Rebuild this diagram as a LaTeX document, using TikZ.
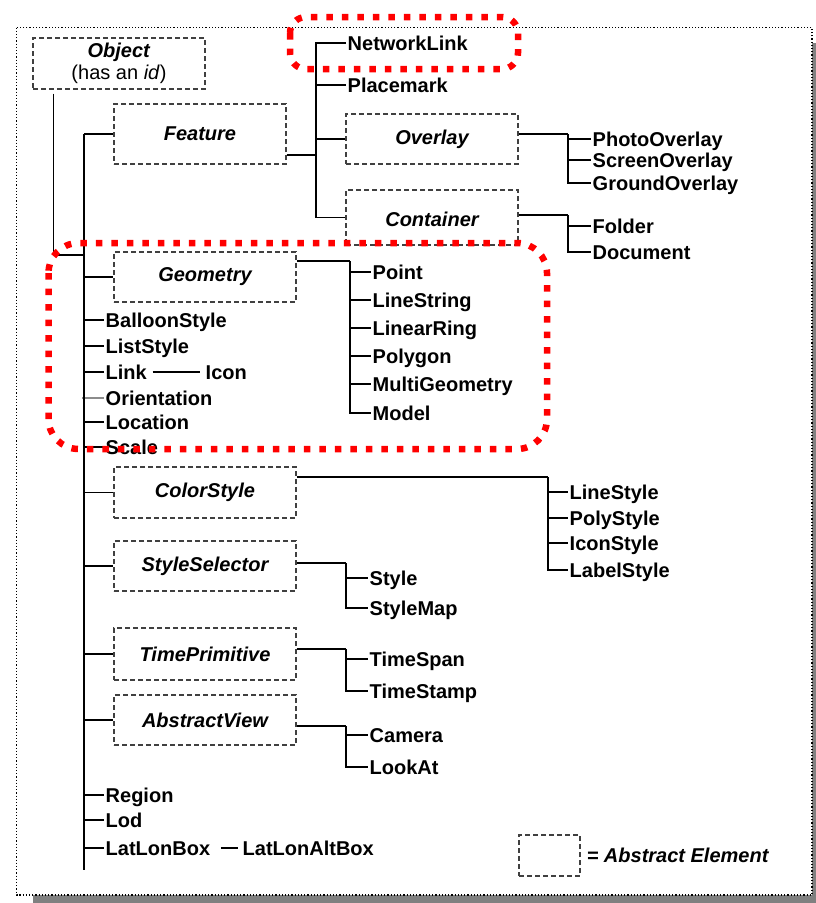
\documentclass[tikz,border=0pt]{standalone}
\usepackage{fontspec}
\setmainfont{Liberation Sans}
\usetikzlibrary{calc}
\newcommand\kmlsize{\fontsize{20}{22}\selectfont}
\tikzset{abox/.style={draw=black!75,dash pattern=on 5pt off 3pt,line width=1.1pt,inner sep=0pt,font=\kmlsize\bfseries\itshape}}
\tikzset{elem/.style={anchor=west,inner xsep=1.5pt,inner ysep=0pt,text height=14pt,text depth=0pt,font=\kmlsize\bfseries}}
\tikzset{elink/.style={draw,line width=1.7pt}}
\tikzset{hilite/.style={draw=red,line width=6.5pt,dash pattern=on 6.5pt off 9pt}}

\begin{document}
\begin{tikzpicture}[x=1pt,y=-1pt]
  \useasboundingbox (0,0) rectangle (816,903);
  \fill[black!50] (33,43) rectangle (816,903);
  \draw[fill=white,dotted,line width=1.2pt] (16.5,27.5) rectangle (812,895);

  \node[abox,minimum width=172pt,minimum height=51pt,align=center,font=\kmlsize] (Object) at (119,63.5) {\textbf{\textit{Object}}\\(has an \textit{id})};
  \node[abox,minimum width=172pt,minimum height=60pt] (Feature) at (200,134) {Feature};
  \node[abox,minimum width=172pt,minimum height=50pt] (Overlay) at (432,139) {Overlay};
  \node[abox,minimum width=172pt,minimum height=55pt,text height=10pt,text depth=0pt] (Container) at (432,217.5) {\raisebox{-4pt}{Container}};
  \foreach \c/\y/\h in {Geometry/277/50,ColorStyle/492.5/51,StyleSelector/566/50,TimePrimitive/654/52,AbstractView/720/50}
    \node[abox,minimum width=182pt,minimum height={\h pt}] (\c) at (205,\y) {\c};

  \foreach \c/\y in {BalloonStyle/320,ListStyle/346,Link/372,Orientation/398,Location/422,Scale/447,Region/795,Lod/820,LatLonBox/848}
    \node[elem] (\c) at (104,\y) {\c};
  \node[elem] (Icon) at (204,372) {Icon};
  \node[elem] (LatLonAltBox) at (241,848) {LatLonAltBox};
  \foreach \c/\y in {NetworkLink/43,Placemark/85}
    \node[elem] (\c) at (346,\y) {\c};
  \foreach \c/\y in {PhotoOverlay/139,ScreenOverlay/160,GroundOverlay/183,Folder/226,Document/252}
    \node[elem] (\c) at (591,\y) {\c};
  \foreach \c/\y in {Point/272,LineString/300,LinearRing/328,Polygon/356,MultiGeometry/384,Model/413}
    \node[elem] (\c) at (371,\y) {\c};
  \foreach \c/\y in {LineStyle/492,PolyStyle/518,IconStyle/543,LabelStyle/570}
    \node[elem] (\c) at (568,\y) {\c};
  \foreach \c/\y in {Style/578,StyleMap/608,TimeSpan/659,TimeStamp/691,Camera/735,LookAt/767}
    \node[elem] (\c) at (368,\y) {\c};

  \coordinate (trunk) at (84,134);
  \coordinate (trunkend) at (84,870);
  \coordinate (objj) at (84,255);
  \draw[elink,black!45,line width=2.5pt] (trunk |- Orientation.west) ++(-2,0) -- (Orientation.west);
  \foreach \c in {Feature,Geometry,BalloonStyle,ListStyle,Link,Location,Scale,ColorStyle,StyleSelector,TimePrimitive,AbstractView,Region,Lod,LatLonBox}
    \draw[elink] (trunk |- \c.west) -- (\c.west);
  \draw[elink] (trunk) -- (trunkend);
  \draw[elink] ([xshift=21pt,yshift=-4pt]Object.south west) |- (objj);
  \draw[elink] ([xshift=4pt]Link.east) -- ([xshift=-4pt]Icon.west);
  \draw[elink] ([xshift=9pt]LatLonBox.east) -- ([xshift=-3pt]LatLonAltBox.west);

  \coordinate (featj) at (316,155);
  \draw[elink] (Feature.east |- featj) -- (featj);
  \foreach \c in {NetworkLink,Placemark,Overlay,Container}
    \draw[elink] (featj) |- (\c.west);
  \coordinate (ovj) at (568,134);
  \draw[elink] (Overlay.east |- ovj) -- (ovj);
  \foreach \c in {PhotoOverlay,ScreenOverlay,GroundOverlay}
    \draw[elink] (ovj) |- (\c.west);
  \coordinate (contj) at (568,215);
  \draw[elink] (Container.east |- contj) -- (contj);
  \foreach \c in {Folder,Document}
    \draw[elink] (contj) |- (\c.west);
  \coordinate (geomj) at (350,261);
  \draw[elink] (Geometry.east |- geomj) -- (geomj);
  \foreach \c in {Point,LineString,LinearRing,Polygon,MultiGeometry,Model}
    \draw[elink] (geomj) |- (\c.west);
  \coordinate (colj) at (548,477);
  \draw[elink] (ColorStyle.east |- colj) -- (colj);
  \foreach \c in {LineStyle,PolyStyle,IconStyle,LabelStyle}
    \draw[elink] (colj) |- (\c.west);
  \coordinate (selj) at (346,563);
  \draw[elink] (StyleSelector.east |- selj) -- (selj);
  \foreach \c in {Style,StyleMap}
    \draw[elink] (selj) |- (\c.west);
  \coordinate (timej) at (346,649);
  \draw[elink] (TimePrimitive.east |- timej) -- (timej);
  \foreach \c in {TimeSpan,TimeStamp}
    \draw[elink] (timej) |- (\c.west);
  \coordinate (viewj) at (346,726);
  \draw[elink] (AbstractView.east |- viewj) -- (viewj);
  \foreach \c in {Camera,LookAt}
    \draw[elink] (viewj) |- (\c.west);

  \node[abox,minimum width=61pt,minimum height=41pt] (legend) at (549.5,855.5) {};
  \node[anchor=west,inner xsep=6pt,font=\kmlsize\bfseries\itshape] (legendtext) at (legend.east) {= Abstract Element};

  \draw[hilite,rounded corners=16pt] (290,17) rectangle (518,69);
  \draw[hilite,rounded corners=30pt] (48.5,243) rectangle (547,449);
\end{tikzpicture}
\end{document}
